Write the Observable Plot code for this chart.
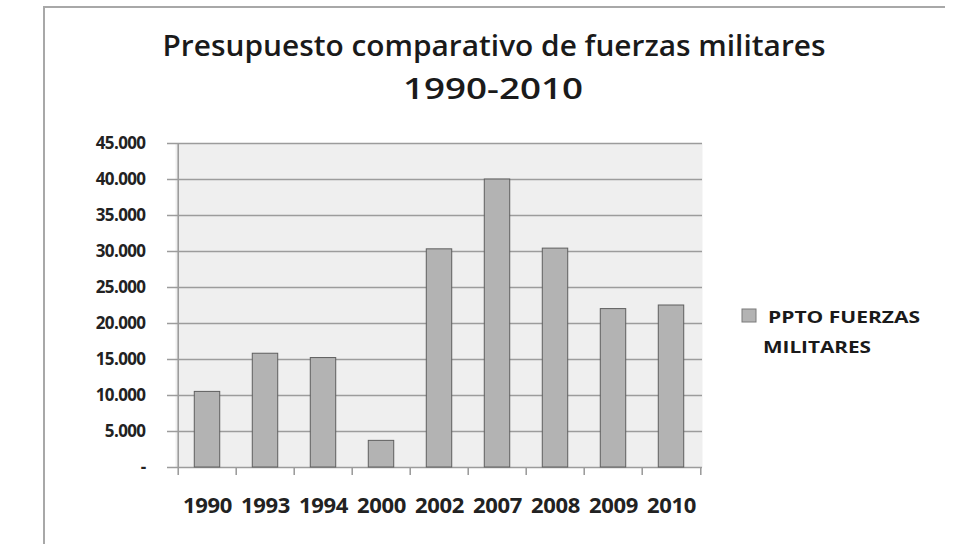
<!DOCTYPE html>
<html>
<head>
<meta charset="utf-8">
<script src="https://cdn.jsdelivr.net/npm/d3@7"></script>
<script src="https://cdn.jsdelivr.net/npm/@observablehq/plot@0.6"></script>
<style>
  html, body { margin: 0; padding: 0; background: #fff; }
  #chart { position: relative; width: 955px; height: 544px; overflow: hidden; }
  svg { font-family: "Open Sans", sans-serif; }
  g[aria-label="y-axis tick label"] text { letter-spacing: -0.6px; }
  g[aria-label="x-axis tick label"] text { letter-spacing: -0.3px; }
</style>
</head>
<body>
<div id="chart"></div>
<script>
const years = ["1990", "1993", "1994", "2000", "2002", "2007", "2008", "2009", "2010"];
const budget = [10500, 15800, 15200, 3700, 30300, 40000, 30400, 22000, 22500];
const yTicks = [0, 5000, 10000, 15000, 20000, 25000, 30000, 35000, 40000, 45000];
const yTickLabels = ["-", "5.000", "10.000", "15.000", "20.000", "25.000", "30.000", "35.000", "40.000", "45.000"];
const titleLines = ["Presupuesto comparativo de fuerzas militares", "1990-2010"];
const seriesName = ["PPTO FUERZAS", "MILITARES"];

const data = years.map((y, i) => ({year: y, value: budget[i]}));

const W = 955, H = 544;
const mL = 175, mR = 253, mT = 143, mB = 77;
const step = (W - mL - mR) / years.length;
const barW = 26;
const inset = (step - barW) / 2;

const chart = Plot.plot({
  width: W,
  height: H,
  marginLeft: mL,
  marginRight: mR,
  marginTop: mT,
  marginBottom: mB,
  style: {background: "transparent", fontFamily: "Open Sans, sans-serif"},
  x: {domain: years, padding: 0, label: null},
  y: {domain: [0, 45000], label: null},
  marks: [
    Plot.frame({fill: "#efefef", stroke: null}),
    Plot.ruleY(yTicks, {y: d => d, stroke: "#9c9c9c", strokeWidth: 1.6, insetLeft: -8}),
    Plot.ruleX([years[0]], {x: d => d, dx: -step / 2, y1: 45000, y2: 0, insetBottom: -8, stroke: "#9c9c9c", strokeWidth: 1.6}),
    Plot.ruleX(years.slice(1), {x: d => d, dx: -step / 2, y1: 0, y2: 0, insetBottom: -8, stroke: "#9c9c9c", strokeWidth: 1.6}),
    Plot.ruleX([years[years.length - 1]], {x: d => d, dx: step / 2, y1: 0, y2: 0, insetBottom: -8, stroke: "#9c9c9c", strokeWidth: 1.6}),
    Plot.barY(data, {x: "year", y: "value", fill: "#b3b3b3", stroke: "#5e5e5e", strokeWidth: 1, insetLeft: inset, insetRight: inset}),
    Plot.axisY({
      ticks: yTicks,
      tickSize: 0,
      tickPadding: 30,
      tickFormat: d => yTickLabels[yTicks.indexOf(d)],
      fontSize: 17,
      fontWeight: "bold",
      fill: "#222",
      label: null
    }),
    Plot.axisX({
      tickSize: 0,
      tickPadding: 30,
      fontSize: 22,
      fontWeight: "bold",
      fill: "#222",
      label: null
    })
  ]
});

document.getElementById("chart").appendChild(chart);

const svg = d3.select(chart);
// outer border (top and left edges visible)
svg.append("path")
  .attr("d", `M44,${H} L44,7 L945,7`)
  .attr("fill", "none")
  .attr("stroke", "#a8a8a8")
  .attr("stroke-width", 2);

// title
svg.append("text")
  .attr("x", 494).attr("y", 56)
  .attr("text-anchor", "middle")
  .attr("font-size", 28)
  .attr("font-weight", 600)
  .attr("fill", "#1a1a1a")
  .attr("textLength", 663)
  .attr("lengthAdjust", "spacingAndGlyphs")
  .text(titleLines[0]);
svg.append("text")
  .attr("x", 493).attr("y", 99)
  .attr("text-anchor", "middle")
  .attr("font-size", 28)
  .attr("font-weight", 600)
  .attr("fill", "#1a1a1a")
  .attr("textLength", 180)
  .attr("lengthAdjust", "spacingAndGlyphs")
  .text(titleLines[1]);

// legend
svg.append("rect")
  .attr("x", 742).attr("y", 309).attr("width", 14).attr("height", 13)
  .attr("fill", "#b3b3b3").attr("stroke", "#7a7a7a").attr("stroke-width", 1);
svg.append("text")
  .attr("x", 768).attr("y", 323)
  .attr("text-anchor", "start")
  .attr("font-size", 16).attr("font-weight", "bold").attr("fill", "#1a1a1a")
  .attr("textLength", 152).attr("lengthAdjust", "spacingAndGlyphs")
  .text(seriesName[0]);
svg.append("text")
  .attr("x", 763).attr("y", 353)
  .attr("text-anchor", "start")
  .attr("font-size", 16).attr("font-weight", "bold").attr("fill", "#1a1a1a")
  .attr("textLength", 108).attr("lengthAdjust", "spacingAndGlyphs")
  .text(seriesName[1]);
</script>
</body>
</html>
